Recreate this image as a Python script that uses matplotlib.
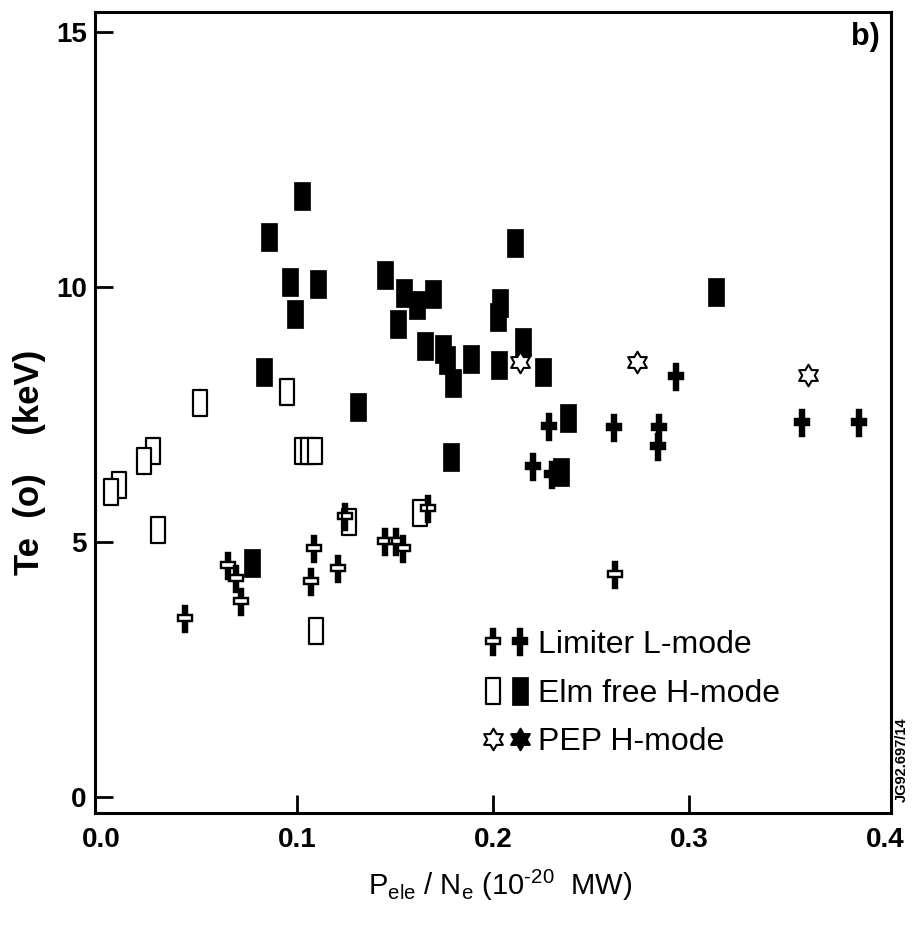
import numpy as np
import matplotlib
matplotlib.use("Agg")
import matplotlib.pyplot as plt
from matplotlib.path import Path
from matplotlib.legend_handler import HandlerTuple

plt.rcParams['font.family'] = ['Liberation Sans', 'DejaVu Sans']
plt.rcParams['mathtext.fontset'] = 'custom'
plt.rcParams['mathtext.rm'] = 'Liberation Sans'
plt.rcParams['mathtext.it'] = 'Liberation Sans:italic'

# ---------------- data ----------------
lim_open_x = [0.0429, 0.0648, 0.0689, 0.0714, 0.1087, 0.1071, 0.1209, 0.1245,
              0.1449, 0.1505, 0.1541, 0.1668, 0.2622]
lim_open_y = [3.49, 4.53, 4.27, 3.82, 4.86, 4.22, 4.47, 5.49,
              5.00, 5.00, 4.86, 5.65, 4.35]

lim_fill_x = [0.2286, 0.2617, 0.2204, 0.2301, 0.2934, 0.2847, 0.2842, 0.3577, 0.3867]
lim_fill_y = [7.25, 7.24, 6.47, 6.31, 8.24, 7.24, 6.86, 7.33, 7.33]

elm_open_x = [0.0505, 0.0949, 0.0265, 0.0219, 0.0092, 0.0051, 0.0291,
              0.1026, 0.1056, 0.1092, 0.1097, 0.1265, 0.1628]
elm_open_y = [7.73, 7.94, 6.78, 6.59, 6.12, 5.98, 5.24,
              6.78, 6.78, 6.78, 3.25, 5.39, 5.57]

elm_fill_x = [0.1026, 0.0857, 0.0964, 0.1107, 0.0990, 0.1449, 0.1546, 0.1612,
              0.1694, 0.1515, 0.2112, 0.2036, 0.2026, 0.1653, 0.1745, 0.1765,
              0.1796, 0.1888, 0.2031, 0.2153, 0.0832, 0.1311, 0.2255, 0.0770,
              0.1786, 0.2383, 0.2347, 0.3138]
elm_fill_y = [11.78, 10.98, 10.10, 10.06, 9.47, 10.24, 9.88, 9.65,
              9.86, 9.27, 10.86, 9.69, 9.41, 8.84, 8.78, 8.57,
              8.12, 8.59, 8.47, 8.92, 8.33, 7.65, 8.33, 4.59,
              6.67, 7.43, 6.37, 9.90]

pep_open_x = [0.2138, 0.2735, 0.3607]
pep_open_y = [8.53, 8.53, 8.27]

pep_fill_x = []
pep_fill_y = []

x_ticks = [0.0, 0.1, 0.2, 0.3, 0.4]
x_ticklabels = ['0.0', '0.1', '0.2', '0.3', '0.4']
y_ticks = [0, 5, 10, 15]
y_ticklabels = ['0', '5', '10', '15']
legend_labels = ['Limiter L-mode', 'Elm free H-mode', 'PEP H-mode']

# ---------------- marker shapes ----------------
DPI = 100
U = 13.5  # pixels per marker unit


def msize(path):
    m = np.max(np.abs(path.vertices))
    return 2 * m * U * 72.0 / DPI


def poly(pts):
    return list(pts) + [pts[0]], [Path.MOVETO] + [Path.LINETO] * (len(pts) - 1) + [Path.CLOSEPOLY]


a, b, c, yc = 0.2, 0.62, 0.3, 0.05
cross_pts = [(-a, 1), (-a, yc + c), (-b, yc + c), (-b, yc - c), (-a, yc - c), (-a, -1),
             (a, -1), (a, yc - c), (b, yc - c), (b, yc + c), (a, yc + c), (a, 1)]
v1, c1 = poly(cross_pts)
cross_fill = Path(v1, c1)
t = 0.14
hole = [(-b + t, yc + c - t), (b - t, yc + c - t), (b - t, yc - c + t), (-b + t, yc - c + t)]
v2, c2 = poly(hole)
cross_open = Path(v1 + v2, c1 + c2)

rv, rc = poly([(-0.56, -1), (0.56, -1), (0.56, 1), (-0.56, 1)])
rect_fill = Path(rv, rc)
ov, oc = poly([(-0.5, -0.95), (0.5, -0.95), (0.5, 0.95), (-0.5, 0.95)])
rect_open = Path(ov, oc)

R = 0.8
r = R / np.sqrt(3)
spts = []
for k in range(6):
    ang_o = np.deg2rad(90 + 60 * k)
    ang_i = np.deg2rad(120 + 60 * k)
    spts.append((R * np.cos(ang_o), R * np.sin(ang_o)))
    spts.append((r * np.cos(ang_i), r * np.sin(ang_i)))
sv, sc = poly(spts)
star = Path(sv, sc)

# ---------------- figure ----------------
fig = plt.figure(figsize=(9.17, 9.25), dpi=DPI)
ax = fig.add_axes([95 / 917, 1 - 813 / 925, 796 / 917, 801 / 925])

h_lo, = ax.plot(lim_open_x, lim_open_y, ls='none', marker=cross_open, ms=msize(cross_open),
                mfc='black', mec='black', mew=0.3, zorder=4)
h_lf, = ax.plot(lim_fill_x, lim_fill_y, ls='none', marker=cross_fill, ms=msize(cross_fill),
                mfc='black', mec='black', mew=0.3, zorder=4)
h_eo, = ax.plot(elm_open_x, elm_open_y, ls='none', marker=rect_open, ms=msize(rect_open),
                mfc='white', mec='black', mew=1.6, zorder=3)
h_ef, = ax.plot(elm_fill_x, elm_fill_y, ls='none', marker=rect_fill, ms=msize(rect_fill),
                mfc='black', mec='black', mew=0.5, zorder=3)
h_po, = ax.plot(pep_open_x, pep_open_y, ls='none', marker=star, ms=msize(star),
                mfc='white', mec='black', mew=1.5, zorder=5)
h_pf, = ax.plot(pep_fill_x, pep_fill_y, ls='none', marker=star, ms=msize(star),
                mfc='black', mec='black', mew=1.5, zorder=5)

ax.set_xlim(-0.003, 0.403)
ax.set_ylim(-0.31, 15.39)
ax.set_xticks(x_ticks)
ax.set_xticklabels(x_ticklabels)
ax.set_yticks(y_ticks)
ax.set_yticklabels(y_ticklabels)
ax.tick_params(direction='in', length=13, width=2, labelsize=20, colors='black')
ax.tick_params(axis='x', pad=10)
ax.tick_params(axis='y', pad=6)
for lab in ax.get_xticklabels() + ax.get_yticklabels():
    lab.set_fontweight('bold')
xt = ax.xaxis.get_major_ticks()
xt[0].tick1line.set_visible(False)
xt[-1].tick1line.set_visible(False)
for s in ax.spines.values():
    s.set_linewidth(2.2)

ax.set_ylabel('Te  (o)    (keV)', fontsize=25, fontweight='bold')
ax.yaxis.set_label_coords(-0.062, 0.438)
ax.set_xlabel(r'P$_{\mathrm{ele}}$ / N$_{\mathrm{e}}$ (10$^{\text{-20}}$  MW)', fontsize=21)
ax.xaxis.set_label_coords(0.509, -0.0687)

ax.text(0.986, 0.9875, 'b)', transform=ax.transAxes, ha='right', va='top',
        fontsize=22, fontweight='bold')
fig.text(902 / 917, 1 - 760 / 925, 'JG92.697/14', rotation=90, ha='center', va='center',
         fontsize=10.5, fontweight='bold')

leg = ax.legend(handles=[(h_lo, h_lf), (h_eo, h_ef), (h_po, h_pf)], labels=legend_labels,
                handler_map={tuple: HandlerTuple(ndivide=None, pad=0.035)},
                loc='upper left', bbox_to_anchor=(0.4837, 0.228), borderaxespad=0,
                borderpad=0, frameon=False, fontsize=23, handlelength=1.65,
                handletextpad=0.15, labelspacing=0.58, numpoints=1)

fig.savefig('out.png', dpi=DPI)
